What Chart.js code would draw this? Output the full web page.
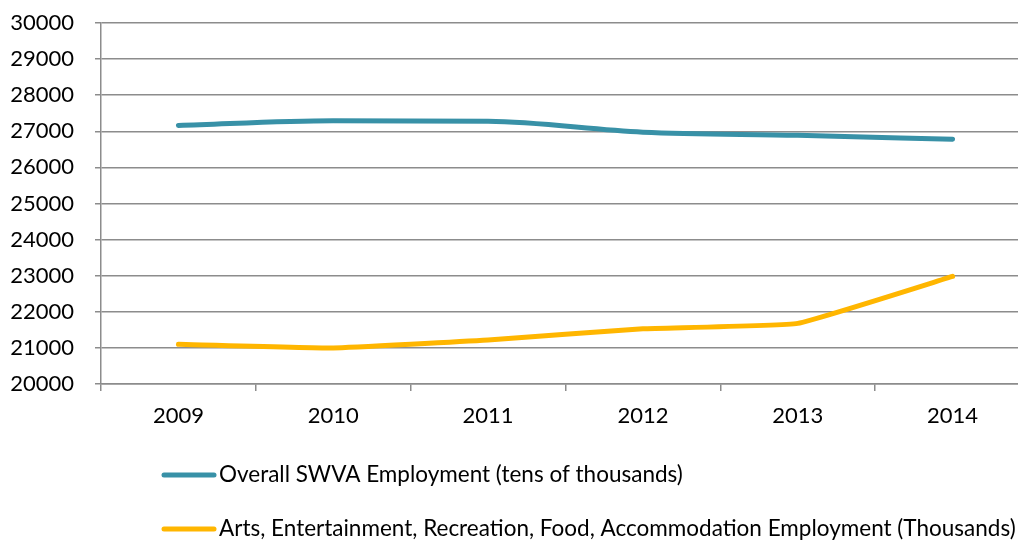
<!DOCTYPE html>
<html>
<head>
<meta charset="utf-8">
<script src="https://cdn.jsdelivr.net/npm/chart.js@4"></script>
<style>
  html, body { margin: 0; padding: 0; background: #fff; overflow: hidden; }
  #wrap { position: absolute; left: 0; top: 0; width: 1040px; height: 542px; }
</style>
</head>
<body>
<div id="wrap"><canvas id="chart" width="1040" height="542"></canvas></div>
<script>
const years = ['2009', '2010', '2011', '2012', '2013', '2014'];
const overallLabel = 'Overall SWVA Employment (tens of thousands)';
const overallValues = [27160, 27290, 27275, 26975, 26890, 26780];
const artsLabel = 'Arts, Entertainment, Recreation, Food, Accommodation Employment (Thousands)';
const artsValues = [21100, 21000, 21220, 21530, 21680, 22980];
const yMin = 20000, yMax = 30000, yStep = 1000;

const FONT = 'Lato, "Open Sans", sans-serif';
const GRID = '#8c8c8c';

// Legend stacked in two left-aligned rows under the plot
const rowLegend = {
  id: 'rowLegend',
  afterDraw(chart) {
    const ctx = chart.ctx;
    const rows = [475, 529];
    ctx.save();
    chart.data.datasets.forEach((ds, i) => {
      const y = rows[i];
      ctx.strokeStyle = ds.borderColor;
      ctx.lineWidth = 5;
      ctx.lineCap = 'round';
      ctx.beginPath();
      ctx.moveTo(164, y);
      ctx.lineTo(214, y);
      ctx.stroke();
      ctx.fillStyle = '#000';
      ctx.font = '22.5px ' + FONT;
      ctx.textBaseline = 'middle';
      ctx.textAlign = 'left';
      ctx.fillText(ds.label, 219, y);
    });
    ctx.restore();
  }
};

new Chart(document.getElementById('chart'), {
  type: 'line',
  data: {
    labels: years,
    datasets: [
      {
        label: overallLabel,
        data: overallValues,
        borderColor: '#3891A7',
        backgroundColor: '#3891A7',
        borderWidth: 5,
        borderCapStyle: 'round',
        borderJoinStyle: 'round',
        cubicInterpolationMode: 'monotone',
        pointRadius: 0,
        fill: false
      },
      {
        label: artsLabel,
        data: artsValues,
        borderColor: '#FFB600',
        backgroundColor: '#FFB600',
        borderWidth: 5,
        borderCapStyle: 'round',
        borderJoinStyle: 'round',
        tension: 0.1,
        pointRadius: 0,
        fill: false
      }
    ]
  },
  options: {
    responsive: false,
    animation: false,
    layout: { padding: { top: 23, right: 10, left: 0, bottom: 0 } },
    plugins: { legend: { display: false }, tooltip: { enabled: false } },
    scales: {
      x: {
        offset: true,
        grid: {
          offset: true,
          drawOnChartArea: false,
          drawTicks: true,
          tickLength: 7,
          color: GRID,
          lineWidth: 1.5
        },
        border: { display: true, color: GRID, width: 1.5 },
        ticks: { color: '#000', font: { family: FONT, size: 22 }, padding: 12 },
        afterFit(scale) { scale.height = 158; scale.paddingLeft = 0; scale.paddingRight = 0; }
      },
      y: {
        min: yMin,
        max: yMax,
        grid: {
          color: GRID,
          lineWidth: 1.5,
          drawTicks: true,
          tickLength: 6
        },
        border: { display: true, color: GRID, width: 1.5 },
        ticks: {
          stepSize: yStep,
          color: '#000',
          font: { family: FONT, size: 22 },
          padding: 21,
          callback: v => String(v)
        },
        afterFit(scale) { scale.width = 101; scale.paddingTop = 0; scale.paddingBottom = 0; }
      }
    }
  },
  plugins: [rowLegend]
});
</script>
</body>
</html>
